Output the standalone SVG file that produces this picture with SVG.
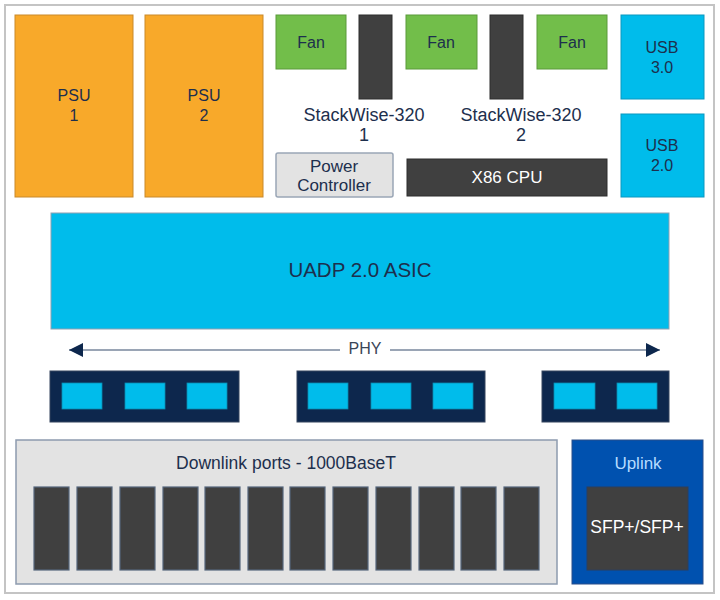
<svg xmlns="http://www.w3.org/2000/svg" width="720" height="600" viewBox="0 0 720 600">
<defs>
<style>
text{font-family:"Liberation Sans",Arial,sans-serif;text-anchor:middle;dominant-baseline:central;fill:#1d2f4d}
.psu{fill:#f8a92a;stroke:#c9892a;stroke-width:1}
.fan{fill:#72be4a;stroke:#5a9a3a;stroke-width:1}
.dark{fill:#404040;stroke:#2c2c2c;stroke-width:1}
.usb{fill:#00bceb;stroke:#0a98c0;stroke-width:1}
.lg{fill:#e3e3e3;stroke:#8d9bae;stroke-width:1.5}
.navy{fill:#0d274d;stroke:#34455e;stroke-width:1}
.sq{fill:#00bceb;stroke:#0a8ab0;stroke-width:0.8}
.port{fill:#404040;stroke:#55667c;stroke-width:1.2}
.w{fill:#ffffff}
</style>
<marker id="ah" viewBox="0 0 10 10" refX="10" refY="5" markerWidth="14" markerHeight="14" markerUnits="userSpaceOnUse" orient="auto-start-reverse">
<path d="M0,0 L10,5 L0,10 z" fill="#0d274d"/>
</marker>
</defs>
<rect x="0" y="0" width="720" height="600" fill="#ffffff"/>
<rect id="frame" x="5" y="5" width="709" height="588" fill="#ffffff" stroke="#c4c4c4" stroke-width="2"/>

<g id="psu1"><rect class="psu" x="15" y="15" width="118" height="182"/><text x="74" y="95" font-size="16">PSU</text><text x="74" y="115" font-size="16">1</text></g>
<g id="psu2"><rect class="psu" x="145" y="15" width="118" height="182"/><text x="204" y="95" font-size="16">PSU</text><text x="204" y="115" font-size="16">2</text></g>

<g id="fan1"><rect class="fan" x="276" y="15" width="70" height="54"/><text x="311" y="42" font-size="16">Fan</text></g>
<g id="fan2"><rect class="fan" x="406" y="15" width="71" height="54"/><text x="441" y="42" font-size="16">Fan</text></g>
<g id="fan3"><rect class="fan" x="537" y="15" width="70" height="54"/><text x="572" y="42" font-size="16">Fan</text></g>

<g id="stackwise1"><rect class="dark" x="359" y="15" width="33" height="84"/><text x="364" y="115" font-size="18">StackWise-320</text><text x="364" y="135" font-size="18">1</text></g>
<g id="stackwise2"><rect class="dark" x="490" y="15" width="33" height="84"/><text x="521" y="115" font-size="18">StackWise-320</text><text x="521" y="135" font-size="18">2</text></g>

<g id="usb3"><rect class="usb" x="621" y="15" width="83" height="84"/><text x="662" y="47" font-size="16">USB</text><text x="662" y="67" font-size="16">3.0</text></g>
<g id="usb2"><rect class="usb" x="621" y="114" width="83" height="83"/><text x="662" y="145" font-size="16">USB</text><text x="662" y="165" font-size="16">2.0</text></g>

<g id="power-controller"><rect x="276" y="153" width="117" height="44" fill="#e3e3e3" stroke="#9aa6b6" stroke-width="1.5" rx="2"/><text x="334" y="166" font-size="17">Power</text><text x="334" y="185" font-size="17">Controller</text></g>
<g id="cpu"><rect class="dark" x="407" y="159" width="200" height="37"/><text class="w" x="507" y="177" font-size="17">X86 CPU</text></g>

<g id="asic"><rect x="51" y="213" width="618" height="116" fill="#00bceb" stroke="#8fa0b2" stroke-width="1"/><text x="360" y="269" font-size="20.5">UADP 2.0 ASIC</text></g>

<g id="connectors">
<line x1="340" y1="350" x2="69" y2="350" stroke="#9aa5b5" stroke-width="2" marker-end="url(#ah)"/>
<line x1="390" y1="350" x2="660" y2="350" stroke="#9aa5b5" stroke-width="2" marker-end="url(#ah)"/>
</g>
<text id="phy-label" x="365" y="348" font-size="16" style="fill:#3a4658">PHY</text>

<g id="phy1"><rect class="navy" x="50" y="371" width="189" height="51"/><rect class="sq" x="62" y="383" width="40" height="26"/><rect class="sq" x="125" y="383" width="40" height="26"/><rect class="sq" x="187" y="383" width="40" height="26"/></g>
<g id="phy2"><rect class="navy" x="297" y="371" width="188" height="51"/><rect class="sq" x="308" y="383" width="40" height="26"/><rect class="sq" x="371" y="383" width="40" height="26"/><rect class="sq" x="433" y="383" width="40" height="26"/></g>
<g id="phy3"><rect class="navy" x="542" y="371" width="127" height="51"/><rect class="sq" x="554" y="383" width="41" height="26"/><rect class="sq" x="617" y="383" width="40" height="26"/></g>

<g id="downlink">
<rect class="lg" x="16" y="440" width="541" height="144"/>
<text x="286" y="463" font-size="17.5">Downlink ports - 1000BaseT</text>
<rect class="port" x="34" y="487" width="35" height="83"/>
<rect class="port" x="77" y="487" width="35" height="83"/>
<rect class="port" x="120" y="487" width="35" height="83"/>
<rect class="port" x="163" y="487" width="35" height="83"/>
<rect class="port" x="205" y="487" width="35" height="83"/>
<rect class="port" x="248" y="487" width="35" height="83"/>
<rect class="port" x="290" y="487" width="35" height="83"/>
<rect class="port" x="333" y="487" width="35" height="83"/>
<rect class="port" x="376" y="487" width="35" height="83"/>
<rect class="port" x="419" y="487" width="35" height="83"/>
<rect class="port" x="461" y="487" width="35" height="83"/>
<rect class="port" x="504" y="487" width="35" height="83"/>
</g>

<g id="uplink">
<rect x="572" y="440" width="131" height="144" fill="#0051af" stroke="#2a4f8a" stroke-width="1"/>
<text x="638" y="463" font-size="17" style="fill:#b5dcff">Uplink</text>
<rect x="587" y="487" width="101" height="83" fill="#404040" stroke="#2e3f5a" stroke-width="1"/>
<text class="w" x="637" y="527" font-size="17.5">SFP+/SFP+</text>
</g>
</svg>
